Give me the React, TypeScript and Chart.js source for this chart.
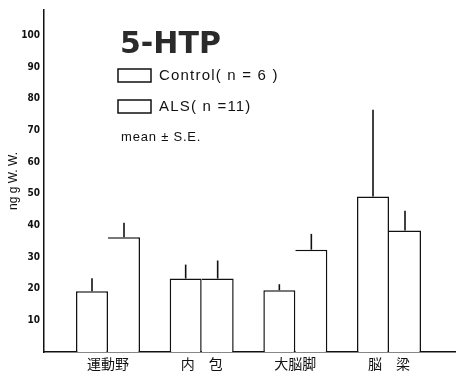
import React, { useEffect, useRef } from "react";
import { Chart, registerables } from "chart.js";

Chart.register(...registerables);

// ---- data ----
const categories = ["運動野", "内　包", "大脳脚", "脳　梁"];
const categoryPositions = [1, 2, 3, 4];
const controlMeans = [19.2, 23.2, 19.5, 49.1];
const controlSE = [4.1, 4.4, 1.9, 27.4];
const alsMeans = [36.2, 23.2, 32.3, 38.4];
const alsSE = [4.6, 5.7, 5.0, 6.2];
const yTicks = [10, 20, 30, 40, 50, 60, 70, 80, 90, 100];
const seriesLabels = ["Control( n = 6 )", "ALS( n =11)"];
const chartTitle = "5-HTP";
const noteText = "mean ± S.E.";
const yAxisTitle = "ng g W. W.";

const errorBarPlugin = {
  id: "errorBars",
  afterDatasetsDraw(chart: any) {
    const ctx = chart.ctx;
    const yScale = chart.scales.y;
    ctx.save();
    ctx.strokeStyle = "#111";
    ctx.lineWidth = 1.6;
    chart.data.datasets.forEach((ds: any, i: number) => {
      const meta = chart.getDatasetMeta(i);
      meta.data.forEach((bar: any, j: number) => {
        const v = ds.data[j].y;
        const e = ds.errors[j];
        const yTop = yScale.getPixelForValue(v + e);
        ctx.beginPath();
        ctx.moveTo(bar.x, bar.y);
        ctx.lineTo(bar.x, yTop);
        ctx.stroke();
      });
    });
    ctx.restore();
  },
};

const legendPlugin = {
  id: "insetLegend",
  afterDraw(chart: any) {
    const ctx = chart.ctx;
    const a = chart.chartArea;
    const x0 = a.left + 74;
    ctx.save();
    ctx.fillStyle = "#2a2a2a";
    ctx.textBaseline = "alphabetic";
    ctx.font = 'bold 30px "DejaVu Sans"';
    ctx.fillText(chartTitle, x0 + 2, a.top + 43);

    ctx.strokeStyle = "#111";
    ctx.lineWidth = 1.5;
    const boxes = [a.top + 59, a.top + 90];
    ctx.font = '15px "Liberation Sans"';
    (ctx as any).letterSpacing = "1.2px";
    ctx.textBaseline = "middle";
    seriesLabels.forEach((lab, i) => {
      ctx.fillStyle = "#fff";
      ctx.fillRect(x0, boxes[i], 33, 13);
      ctx.strokeRect(x0, boxes[i], 33, 13);
      ctx.fillStyle = "#111";
      ctx.fillText(lab, x0 + 41, boxes[i] + 7);
    });
    ctx.font = '13px "Liberation Sans"';
    (ctx as any).letterSpacing = "0.8px";
    ctx.fillText(noteText, x0 + 3, a.top + 127);
    ctx.restore();
  },
};

export default function App() {
  const ref = useRef<HTMLCanvasElement>(null);
  useEffect(() => {
    document.body.style.margin = "0";
    const spacingMin = 1 - 64 / 93.67;
    const spacingMax = spacingMin + 412 / 93.67;
    const chart = new Chart(ref.current as HTMLCanvasElement, {
      type: "bar",
      data: {
        datasets: [
          {
            label: seriesLabels[0],
            data: categoryPositions.map((x, i) => ({ x, y: controlMeans[i] })),
            errors: controlSE,
            backgroundColor: "#fff",
            borderColor: "#111",
            borderWidth: { top: 1.5, left: 1.5, right: 1.5, bottom: 0 },
            borderSkipped: false,
            barPercentage: 1,
            categoryPercentage: 64 / 93.67,
          } as any,
          {
            label: seriesLabels[1],
            data: categoryPositions.map((x, i) => ({ x, y: alsMeans[i] })),
            errors: alsSE,
            backgroundColor: "#fff",
            borderColor: "#111",
            borderWidth: { top: 1.5, left: 0, right: 1.5, bottom: 0 },
            borderSkipped: false,
            barPercentage: 1,
            categoryPercentage: 64 / 93.67,
          } as any,
        ],
      },
      options: {
        animation: false,
        responsive: false,
        devicePixelRatio: 1,
        layout: { padding: { top: 8, left: 0, right: 0, bottom: 0 } },
        plugins: { legend: { display: false }, tooltip: { enabled: false } },
        scales: {
          x: {
            type: "linear",
            offset: false,
            min: spacingMin,
            max: spacingMax,
            grid: { display: false, drawTicks: false, offset: false },
            border: { display: true, color: "#111", width: 1.5 },
            afterBuildTicks: (s: any) => {
              s.ticks = categoryPositions.map((v) => ({ value: v }));
            },
            afterFit: (s: any) => {
              s.height = 19;
            },
            ticks: {
              autoSkip: false,
              maxRotation: 0,
              padding: 3,
              color: "#111",
              font: { family: '"Noto Sans CJK JP"', size: 14 },
              callback: (v: any) => categories[categoryPositions.indexOf(v)] ?? "",
            },
          },
          y: {
            min: 0,
            max: 108,
            grid: { display: false, drawTicks: false },
            border: { display: true, color: "#111", width: 1.5 },
            afterBuildTicks: (s: any) => {
              s.ticks = yTicks.map((v) => ({ value: v }));
            },
            afterFit: (s: any) => {
              s.width = 44;
            },
            ticks: {
              padding: 4,
              color: "#111",
              font: { family: '"DejaVu Sans Condensed", "DejaVu Sans", sans-serif', size: 10, weight: "bold" },
            },
            title: {
              display: true,
              text: yAxisTitle,
              color: "#111",
              padding: { top: 6, bottom: 0 },
              font: { family: '"Liberation Sans"', size: 12 },
            },
          },
        },
      },
      plugins: [errorBarPlugin, legendPlugin],
    } as any);
    return () => chart.destroy();
  }, []);
  return (
    <div style={{ width: 456, height: 371, background: "#fff" }}>
      <canvas ref={ref} width={456} height={371} style={{ display: "block" }} />
    </div>
  );
}
